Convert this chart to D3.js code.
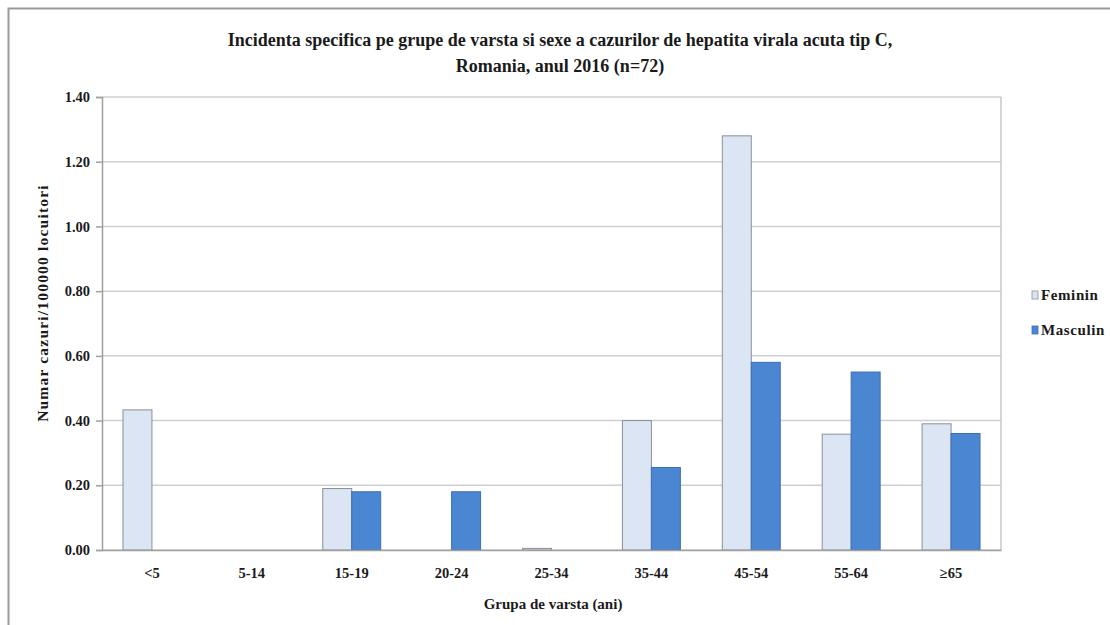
<!DOCTYPE html>
<html><head><meta charset="utf-8">
<script src="https://cdn.jsdelivr.net/npm/d3@7"></script>
<style>body{margin:0;background:#fff}svg{display:block}text{font-family:"Liberation Serif","Times New Roman",serif;font-weight:bold;fill:#1a1a1a}</style>
</head><body>
<svg id="c" width="1110" height="625"></svg>
<script>
const categories = ["<5","5-14","15-19","20-24","25-34","35-44","45-54","55-64","\u226565"];
const feminin = [0.433,0,0.19,0,0.005,0.40,1.28,0.358,0.39];
const masculin = [0,0,0.18,0.18,0,0.255,0.58,0.55,0.36];
const seriesNames = ["Feminin","Masculin"];
const yTicks = [0,0.2,0.4,0.6,0.8,1.0,1.2,1.4];

const svg = d3.select("#c");
const m = {l:102, r:1001, t:97, b:550};
svg.append("rect").attr("x",8.5).attr("y",8.5).attr("width",1200).attr("height",700)
  .attr("fill","none").attr("stroke","#9a9a9a").attr("stroke-width",2);

const x = d3.scaleBand().domain(categories).range([m.l,m.r]).paddingInner(0.42).paddingOuter(0.21);
const xs = d3.scaleBand().domain(seriesNames).range([0,x.bandwidth()]);
const y = d3.scaleLinear().domain([0,1.4]).range([m.b,m.t]);

// grid
svg.append("g").selectAll("line").data(yTicks).join("line")
  .attr("x1",m.l).attr("x2",m.r).attr("y1",d=>y(d)).attr("y2",d=>y(d))
  .attr("stroke","#d0d0d0").attr("stroke-width",1.5);
svg.append("line").attr("x1",m.r).attr("x2",m.r).attr("y1",m.t).attr("y2",m.b).attr("stroke","#c8c8c8").attr("stroke-width",1.5);

const colors = {Feminin:"#dbe5f3", Masculin:"#4a86d2"};
const strokes = {Feminin:"#8a8f99", Masculin:"#3c6fb3"};
const data = categories.map((c,i)=>({c, vals:[{s:"Feminin",v:feminin[i]},{s:"Masculin",v:masculin[i]}]}));
const g = svg.append("g").selectAll("g").data(data).join("g").attr("transform",d=>`translate(${x(d.c)},0)`);
g.selectAll("rect").data(d=>d.vals.filter(v=>v.v>0)).join("rect")
  .attr("x",d=>xs(d.s)).attr("width",xs.bandwidth())
  .attr("y",d=>y(d.v)).attr("height",d=>Math.max(1,y(0)-y(d.v)))
  .attr("fill",d=>colors[d.s]).attr("stroke",d=>strokes[d.s]).attr("stroke-width",1);

// y axis
const ya = d3.axisLeft(y).tickValues(yTicks).tickFormat(d3.format(".2f")).tickSize(6).tickPadding(6);
const yg = svg.append("g").attr("transform",`translate(${m.l},0)`).call(ya);
yg.select(".domain").attr("stroke","#a0a0a0").attr("stroke-width",1.5);
yg.selectAll(".tick line").attr("stroke","#a0a0a0").attr("stroke-width",1.5);
yg.selectAll("text").style("font-size","14.5px").attr("fill","#1a1a1a");

// x axis
const xa = d3.axisBottom(x).tickSize(0).tickPadding(18);
const xg = svg.append("g").attr("transform",`translate(0,${m.b})`).call(xa);
xg.select(".domain").attr("stroke","#a0a0a0").attr("stroke-width",1.5);
xg.selectAll("text").style("font-size","14.5px").attr("fill","#1a1a1a");

// titles
svg.append("text").attr("x",560).attr("y",46).attr("text-anchor","middle").style("font-size","18px")
  .text("Incidenta specifica pe grupe de varsta si sexe a cazurilor de hepatita virala acuta tip C,");
svg.append("text").attr("x",560).attr("y",72).attr("text-anchor","middle").style("font-size","18px")
  .text("Romania, anul 2016 (n=72)");
svg.append("text").attr("x",553).attr("y",609).attr("text-anchor","middle").style("font-size","15px")
  .text("Grupa de varsta (ani)");
svg.append("text").attr("transform","translate(48,303) rotate(-90)").attr("text-anchor","middle")
  .style("font-size","15.5px").style("letter-spacing","1.2px")
  .text("Numar cazuri/100000 locuitori");

// legend
const lg = svg.append("g").selectAll("g").data(seriesNames).join("g")
  .attr("transform",(d,i)=>`translate(1032,${295+i*35})`);
lg.append("rect").attr("x",0).attr("y",-4).attr("width",6).attr("height",8)
  .attr("fill",d=>colors[d]).attr("stroke",d=>strokes[d]).attr("stroke-width",0.8);
lg.append("text").attr("x",9).attr("y",5).style("font-size","15px").style("letter-spacing","0.6px").text(d=>d);
</script>
</body></html>
